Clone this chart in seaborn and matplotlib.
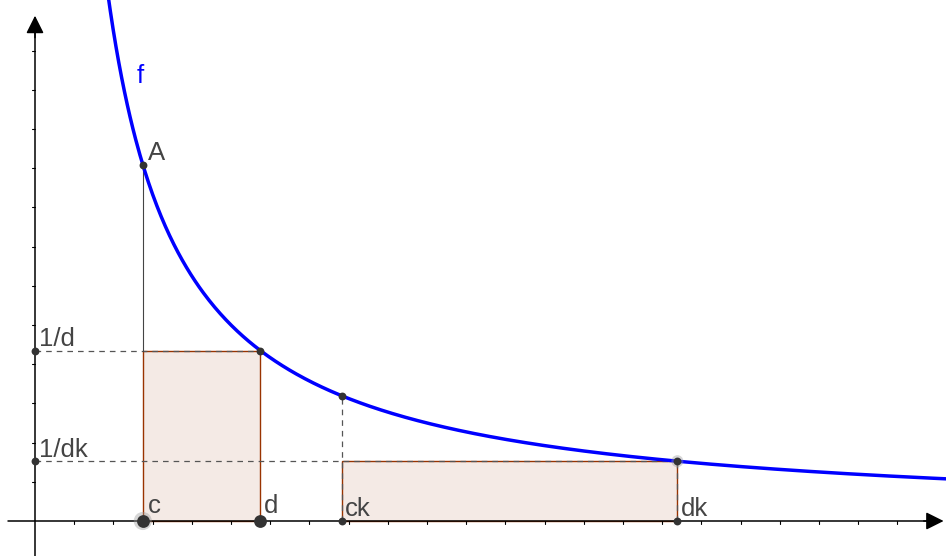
import numpy as np
import pandas as pd
import matplotlib
matplotlib.use('Agg')
import matplotlib.pyplot as plt
import seaborn as sns
from matplotlib.patches import Rectangle

# f(x) = a / x, with points c, d and scale factor k
a = 25.0
c = 2.75
d = 5.75
k = 2.85
curve_x = np.linspace(1.85, 23.4, 600)

axis_xmax = 23.2
axis_ymax = 12.96
x_ticks = list(range(1, 23))
y_ticks = list(range(1, 13))

BLUE = '#0000ff'
BROWN = '#993300'
DARK = '#333333'
GRAY = '#555555'
TEXT = '#444444'


def f(x):
    return a / np.asarray(x, dtype=float)


def main():
    sns.set_style('white')
    plt.rcParams['font.family'] = ['Liberation Sans', 'DejaVu Sans']

    fig = plt.figure(figsize=(9.46, 5.56), dpi=100)
    ax = fig.add_axes([0, 0, 1, 1])
    ax.axis('off')
    unit = 39.2
    ax.set_xlim(-35 / unit, 911 / unit)
    ax.set_ylim(-35 / unit, 521 / unit)

    ck = c * k
    dk = d * k

    # rectangles
    ax.add_patch(Rectangle((c, 0), d - c, f(d), facecolor=(0.6, 0.2, 0, 0.1),
                           edgecolor=BROWN, lw=1.0, zorder=1))
    ax.add_patch(Rectangle((ck, 0), dk - ck, f(dk), facecolor=(0.6, 0.2, 0, 0.1),
                           edgecolor=BROWN, lw=1.0, zorder=1))

    # axes with arrows
    ax.plot([-0.69, axis_xmax - 0.3], [0, 0], color='black', lw=1.1, zorder=2)
    ax.plot([0, 0], [-1, axis_ymax - 0.4], color='black', lw=1.1, zorder=2)
    ax.annotate('', xy=(axis_xmax + 0.05, 0), xytext=(axis_xmax - 0.6, 0),
                arrowprops=dict(arrowstyle='-|>', mutation_scale=27, color='black', lw=1.1))
    ax.annotate('', xy=(0, axis_ymax), xytext=(0, axis_ymax - 0.7),
                arrowprops=dict(arrowstyle='-|>', mutation_scale=27, color='black', lw=1.1))
    for t in x_ticks:
        ax.plot([t, t], [0, -3 / unit], color='black', lw=0.8, zorder=2)
    for t in y_ticks:
        ax.plot([0, -3 / unit], [t, t], color='black', lw=0.8, zorder=2)

    # helper lines
    dash = dict(color=GRAY, lw=0.9, dashes=(4.5, 4), zorder=3)
    ax.plot([0, d], [f(d), f(d)], **dash)
    ax.plot([0, dk], [f(dk), f(dk)], **dash)
    ax.plot([ck, ck], [0, f(ck)], **dash)
    ax.plot([dk, dk], [0, f(dk)], **dash)
    ax.plot([c, c], [f(d), f(c)], color='#444444', lw=0.8, zorder=3)

    # curve
    curve = pd.DataFrame({'x': curve_x, 'y': f(curve_x)})
    sns.lineplot(data=curve, x='x', y='y', ax=ax, color=BLUE, lw=2.5,
                 sort=False, zorder=4)

    # points
    small = pd.DataFrame({
        'x': [0, 0, c, d, ck, dk, ck, dk],
        'y': [f(d), f(dk), f(c), f(d), f(ck), f(dk), 0, 0],
    })
    big = pd.DataFrame({'x': [c, d], 'y': [0, 0]})
    ax.scatter([c, dk], [0, f(dk)], s=[170, 75], color='#999999', alpha=0.4,
               linewidths=0, zorder=5)
    sns.scatterplot(data=small, x='x', y='y', ax=ax, color=DARK, s=32,
                    linewidth=0, zorder=6)
    sns.scatterplot(data=big, x='x', y='y', ax=ax, color=DARK, s=85,
                    linewidth=0, zorder=6)

    # labels
    fs = 18.5
    ax.text(2.6, 11.17, 'f', color=BLUE, fontsize=fs, va='baseline')
    ax.text(2.88, 9.21, 'A', color=TEXT, fontsize=fs, va='baseline')
    ax.text(0.1, 4.46, '1/d', color=TEXT, fontsize=fs, va='baseline')
    ax.text(0.1, 1.63, '1/dk', color=TEXT, fontsize=fs, va='baseline')
    ax.text(c + 0.12, 0.2, 'c', color=TEXT, fontsize=fs, va='baseline')
    ax.text(d + 0.1, 0.2, 'd', color=TEXT, fontsize=fs, va='baseline')
    ax.text(ck + 0.08, 0.13, 'ck', color=TEXT, fontsize=fs, va='baseline')
    ax.text(dk + 0.08, 0.13, 'dk', color=TEXT, fontsize=fs, va='baseline')

    ax.set_xlabel('')
    ax.set_ylabel('')
    fig.savefig('out.png', dpi=100)


if __name__ == '__main__':
    main()
